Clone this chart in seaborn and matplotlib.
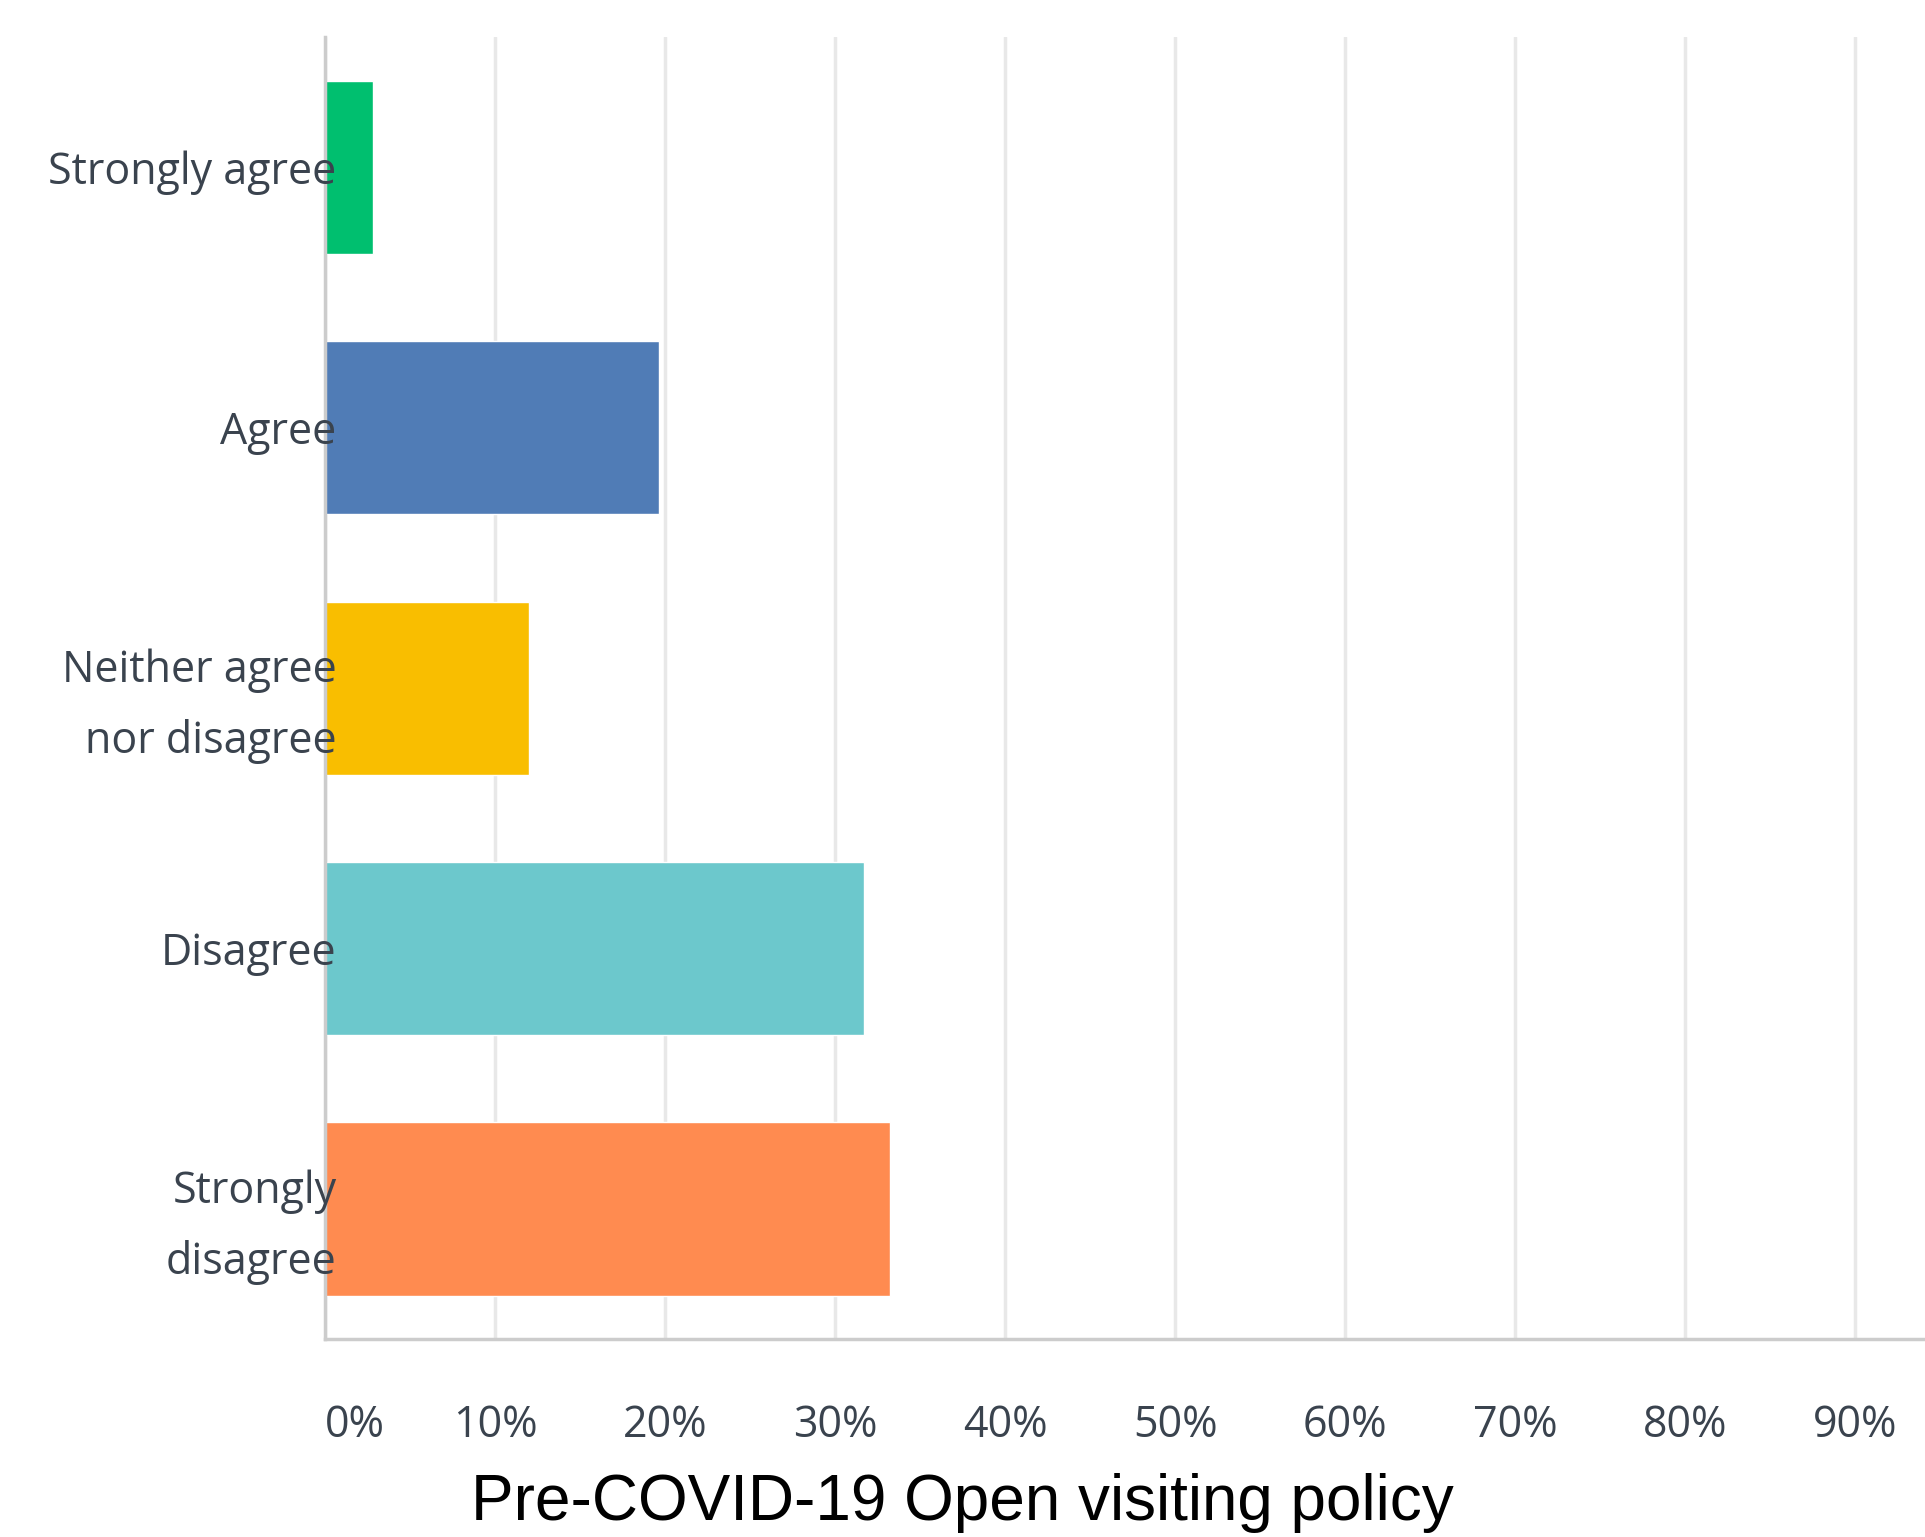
import matplotlib.pyplot as plt
import seaborn as sns
import pandas as pd

# survey responses (percent of respondents)
categories = ["Strongly agree", "Agree", "Neither agree\nnor disagree", "Disagree", "Strongly\ndisagree"]
percents = [2.8, 19.6, 12.0, 31.7, 33.2]
colors = ["#00bf6f", "#507cb6", "#f9be00", "#6cc8cc", "#ff8b50"]
tick_values = [0, 10, 20, 30, 40, 50, 60, 70, 80, 90]
tick_labels = ["0%", "10%", "20%", "30%", "40%", "50%", "60%", "70%", "80%", "90%"]
title = "Pre-COVID-19 Open visiting policy"

df = pd.DataFrame({"answer": categories, "pct": percents})

sns.set_theme(style="white")
plt.rcParams["font.family"] = ["Liberation Sans Narrow", "Open Sans", "DejaVu Sans"]

fig = plt.figure(figsize=(19.25, 15.37), dpi=100)
ax = fig.add_axes([0.169, 0.1286, 0.831, 0.8474])

sns.barplot(data=df, x="pct", y="answer", hue="answer", palette=colors,
            orient="h", width=0.665, saturation=1, legend=False, ax=ax)

ax.set_xlim(0, 94.1)
ax.set_ylim(4.5, -0.5)
ax.set_xticks(tick_values)
ax.set_xticklabels(tick_labels)
ax.set_xlabel("")
ax.set_ylabel("")

ax.grid(axis="x", color="#e8e8e8", linewidth=2.5)
ax.set_axisbelow(True)
# category labels sit on top of the bars
ax.yaxis.set_zorder(5)
for side in ["top", "right"]:
    ax.spines[side].set_visible(False)
ax.spines["left"].set_color("#cccccc")
ax.spines["left"].set_linewidth(2.5)
ax.spines["bottom"].set_color("#cccccc")
ax.spines["bottom"].set_linewidth(2.5)

ax.tick_params(axis="x", length=0, pad=46, labelsize=31, labelcolor="#3a434e")
ax.tick_params(axis="y", length=0, pad=-8, labelsize=31, labelcolor="#3a434e")
for lab in ax.get_yticklabels():
    lab.set_linespacing(1.75)
xl = ax.get_xticklabels()
xl[0].set_horizontalalignment("left")

fig.text(0.5, 0.011, title, ha="center", va="baseline", fontsize=46,
         color="black", family=["Liberation Sans", "DejaVu Sans"])

fig.savefig("out.png", dpi=100)
